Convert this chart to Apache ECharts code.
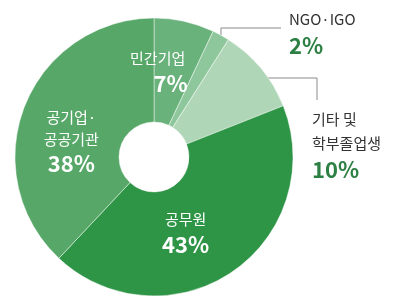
<!DOCTYPE html>
<html>
<head>
<meta charset="utf-8">
<script src="https://cdn.jsdelivr.net/npm/echarts@6/dist/echarts.min.js"></script>
<style>
  html, body { margin: 0; padding: 0; background: #fff; }
  #chart { width: 393px; height: 302px; }
</style>
</head>
<body>
<div id="chart"></div>
<script>
// 진로 분포 (%)
const names = ['민간기업', 'NGO·IGO', '기타 및\n학부졸업생', '공무원', '공기업·\n공공기관']
const values = [7, 2, 10, 43, 38]
const colors = ['#6ab27b', '#8dc79b', '#afd6b6', '#2e9446', '#57a868']

const font = '"Noto Sans CJK KR", "Noto Sans", sans-serif'

// 안쪽 라벨 미세 조정
const insideOffsets = { 0: [-3, 3], 3: [-19, 2], 4: [1, 18] }

const chart = echarts.init(document.getElementById('chart'))

const data = names.map((n, i) => {
  const outside = i === 1 || i === 2
  const nameStyle = i === 0 ? 'n0' : 'n'
  return {
    name: n,
    value: values[i],
    itemStyle: { color: colors[i] },
    label: outside
      ? { position: 'outside', formatter: '{o|{b}}\n{p|{c}%}' }
      : { position: 'inside', offset: insideOffsets[i], formatter: '{' + nameStyle + '|{b}}\n{v|{c}%}' },
    labelLine: { show: outside }
  }
})

chart.setOption({
  animation: false,
  series: [
    {
      type: 'pie',
      center: [154, 157],
      radius: [35, 139],
      startAngle: 90,
      clockwise: true,
      avoidLabelOverlap: false,
      itemStyle: { borderColor: 'rgba(255,255,255,0.45)', borderWidth: 1 },
      label: {
        fontFamily: font,
        rich: {
          n: { color: '#fff', fontSize: 15, lineHeight: 22, fontFamily: font, align: 'center' },
          n0: { color: '#fff', fontSize: 15, lineHeight: 22, fontFamily: font, align: 'center', padding: [0, 26, 0, 0] },
          v: { color: '#fff', fontSize: 22, fontWeight: 'bold', lineHeight: 28, fontFamily: font, align: 'center' },
          o: { color: '#333', fontSize: 15, lineHeight: 24, fontFamily: font },
          p: { color: '#2d8043', fontSize: 22, fontWeight: 'bold', lineHeight: 30, fontFamily: font }
        }
      },
      labelLine: { lineStyle: { color: '#8a8a8a', width: 1 } },
      labelLayout: function (params) {
        if (params.dataIndex === 1) {
          const s = params.labelLinePoints[0]
          return {
            x: 289, y: 7, align: 'left', verticalAlign: 'top',
            labelLinePoints: [[s[0], s[1]], [s[0], 28], [281, 28]]
          }
        }
        if (params.dataIndex === 2) {
          const s = params.labelLinePoints[0]
          return {
            x: 312, y: 107, align: 'left', verticalAlign: 'top',
            labelLinePoints: [[s[0] - 2, 78], [317, 78], [317, 100]]
          }
        }
      },
      data: data
    }
  ]
})
</script>
</body>
</html>
